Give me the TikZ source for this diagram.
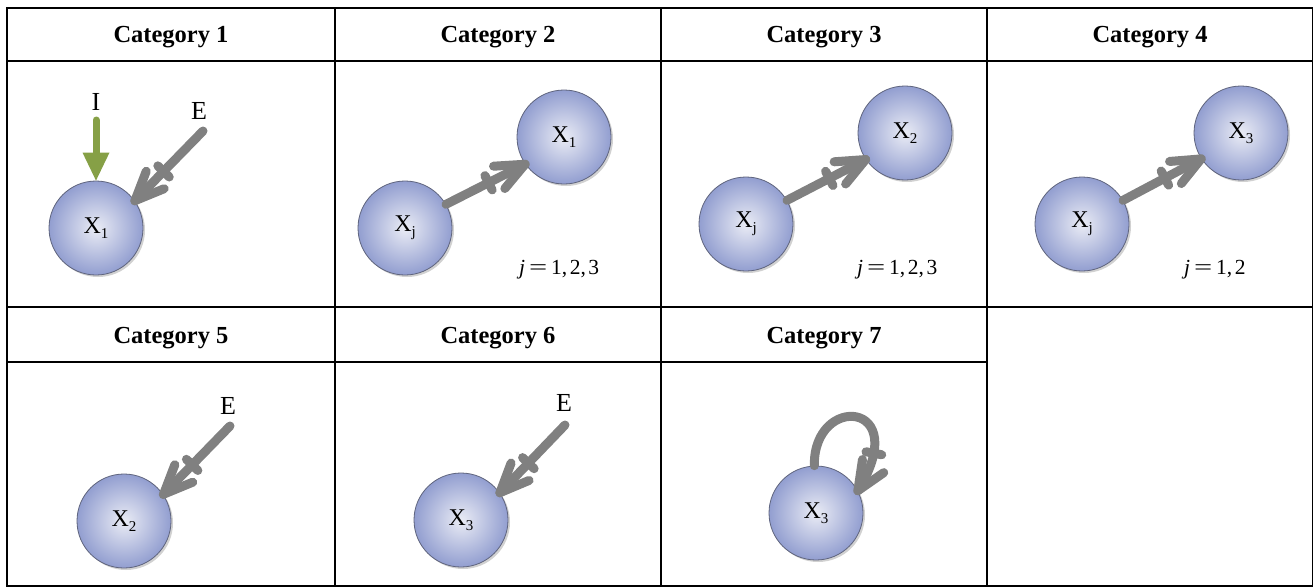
\documentclass[tikz,border=0pt]{standalone}
\usepackage{fontspec}
\usepackage{graphicx}
\setmainfont{Liberation Serif}
\usetikzlibrary{arrows.meta,decorations.markings,shadows}

\definecolor{arrgray}{RGB}{128,128,128}
\definecolor{igreen}{RGB}{134,160,70}
\definecolor{ballin}{RGB}{234,236,245}
\definecolor{ballout}{RGB}{146,158,208}
\definecolor{ballline}{RGB}{95,100,125}

\newcommand{\Xs}[1]{X\raisebox{-0.22em}{\fontsize{15}{15}\selectfont #1}}
\newcommand{\jeq}[1]{\textit{j}\hspace{0.18em}\scalebox{1.5}[1]{=}\hspace{0.18em}#1}

\begin{document}
\begin{tikzpicture}[x=1pt,y=-1pt,
  grid/.style={line width=2.6pt,black},
  hdr/.style={font=\fontsize{24.5}{24.5}\selectfont\bfseries},
  ball/.style={circle, minimum size=94pt, inner sep=0pt, draw=ballline, line width=0.8pt,
    inner color=ballin, outer color=ballout,
    drop shadow={shadow xshift=2pt,shadow yshift=-2pt,opacity=0.3,fill=black!60},
    font=\fontsize{24}{24}\selectfont},
  lbl/.style={font=\fontsize{26}{26}\selectfont, inner sep=0pt},
  jlbl/.style={font=\fontsize{21.5}{21.5}\selectfont, anchor=base west, inner sep=0pt},
  garrow/.style={igreen, line width=7pt, line cap=round,
    -{Triangle[length=28pt,width=27pt,line width=0pt]}},
  flow/.style={arrgray, line width=9pt, line cap=round, line join=round,
    postaction={decorate},
    decoration={markings,
      mark=at position -41pt with {\draw[arrgray,line width=9pt,line cap=round] (0,8) -- (0,-8);},
      mark=at position -0.05pt with {\draw[arrgray,line width=9pt,line cap=round,line join=round] (-29,12.5) -- (0,0) -- (-29,-12.5);}}},
]
\useasboundingbox (0,0) rectangle (1313,586);

% grid
\draw[grid] (7,8) rectangle (1313,586);
\draw[grid] (7,61) -- (1313,61);
\draw[grid] (7,307) -- (1313,307);
\draw[grid] (7,362) -- (987,362);
\draw[grid] (335,8) -- (335,586);
\draw[grid] (661,8) -- (661,586);
\draw[grid] (987,8) -- (987,586);

% headers
\node[hdr] (h1) at (171,37) {Category 1};
\node[hdr] (h2) at (498,37) {Category 2};
\node[hdr] (h3) at (824,37) {Category 3};
\node[hdr] (h4) at (1150,37) {Category 4};
\node[hdr] (h5) at (171,338) {Category 5};
\node[hdr] (h6) at (498,338) {Category 6};
\node[hdr] (h7) at (824,338) {Category 7};

% Category 1
\node[ball] (c1x) at (96,228) {\Xs{1}};
\node[lbl] (c1il) at (96,102) {I};
\node[lbl] (c1el) at (199,111) {E};
\coordinate (c1i) at (96,120);
\coordinate (c1e) at (203,131);
\draw[garrow] (c1i) -- (c1x.north);
\draw[flow] (c1e) -- (c1x.35);

% Category 2
\node[ball] (c2j) at (405,228) {\Xs{j}};
\node[ball] (c2a) at (564,137) {\Xs{1}};
\draw[flow] (c2j.30) -- (c2a.215);
\node[jlbl] (c2t) at (519,274) {\jeq{1,\hspace{0.12em}2,\hspace{0.12em}3}};

% Category 3
\node[ball] (c3j) at (746,224) {\Xs{j}};
\node[ball] (c3a) at (905,133) {\Xs{2}};
\draw[flow] (c3j.30) -- (c3a.214);
\node[jlbl] (c3t) at (857,274) {\jeq{1,\hspace{0.12em}2,\hspace{0.12em}3}};

% Category 4
\node[ball] (c4j) at (1082,224) {\Xs{j}};
\node[ball] (c4a) at (1241,133) {\Xs{3}};
\draw[flow] (c4j.30) -- (c4a.213);
\node[jlbl] (c4t) at (1184,274) {\jeq{1,\hspace{0.12em}2}};

% Category 5
\node[ball] (c5x) at (124,521) {\Xs{2}};
\node[lbl] (c5el) at (228,406) {E};
\coordinate (c5e) at (230,426);
\draw[flow] (c5e) -- (c5x.34);

% Category 6
\node[ball] (c6x) at (461,520) {\Xs{3}};
\node[lbl] (c6el) at (564,403) {E};
\coordinate (c6e) at (565,425);
\draw[flow] (c6e) -- (c6x.35);

% Category 7
\node[ball] (c7x) at (816,513) {\Xs{3}};
\draw[flow] (c7x.92) .. controls (813,393) and (914,400) .. (c7x.28);

\end{tikzpicture}
\end{document}
